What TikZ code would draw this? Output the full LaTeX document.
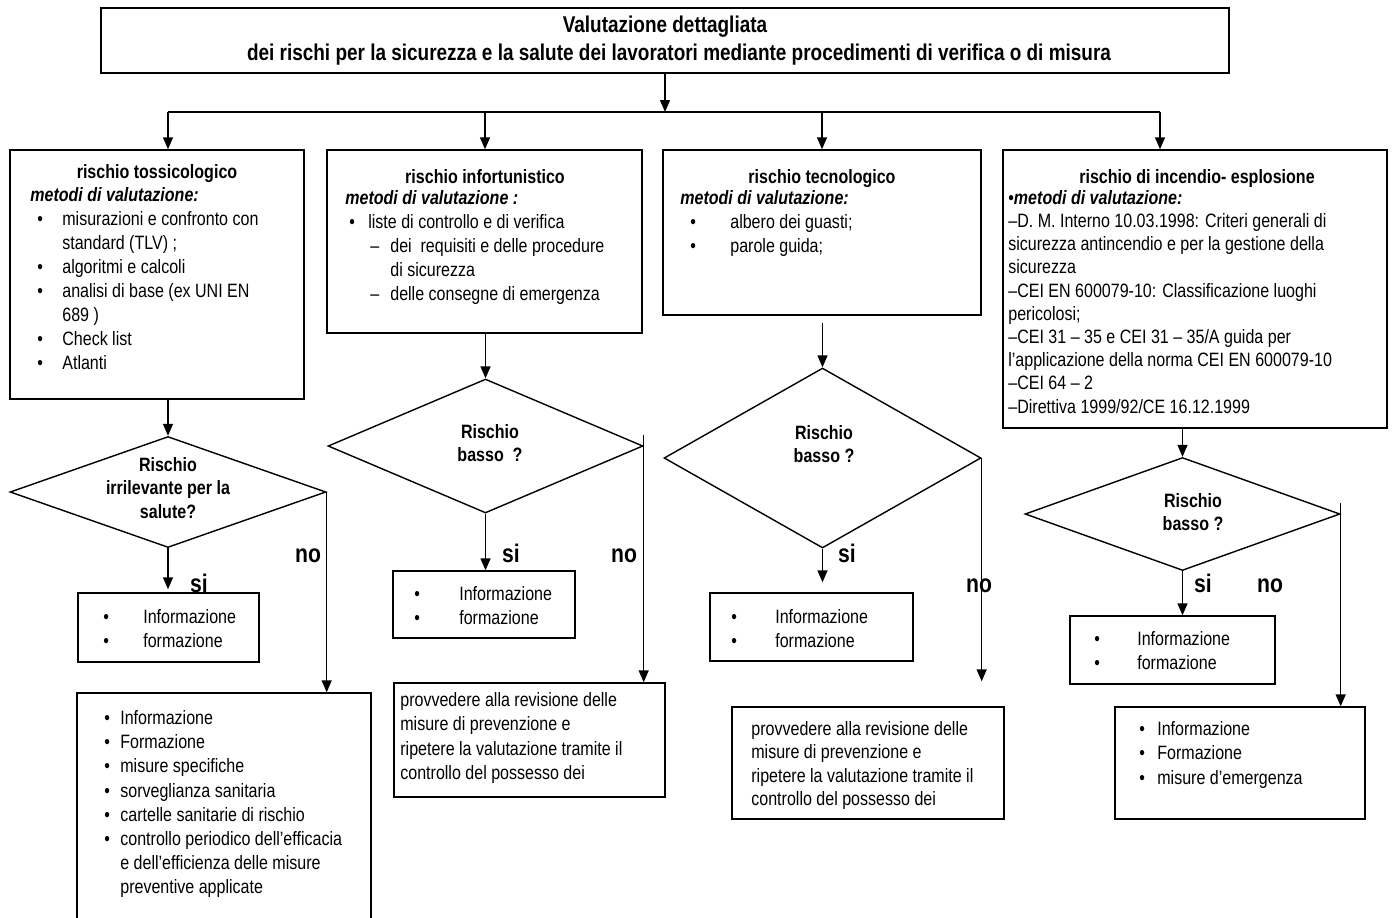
\documentclass[tikz,border=0pt]{standalone}
\usepackage{fontspec}
\setmainfont[FakeStretch=0.83]{Liberation Sans}
\usetikzlibrary{arrows.meta, positioning, shapes.geometric, fit}

\tikzset{
  box/.style={draw, line width=0.8pt, inner sep=0pt},
  decision/.style={draw, diamond, line width=0.8pt, inner sep=0pt},
  arr/.style={-{Triangle[length=0.24cm, width=0.2cm]}, line width=0.8pt},
  body/.style={anchor=north west, align=left, inner sep=0pt, font=\fontsize{11}{13.66}\selectfont},
  head/.style={anchor=base, inner sep=0pt, font=\fontsize{11}{13.66}\selectfont\bfseries},
  ask/.style={anchor=north, align=center, inner sep=0pt, font=\fontsize{11}{13.3}\selectfont\bfseries},
  yn/.style={anchor=base, inner sep=0pt, font=\fontsize{14.5}{17}\selectfont\bfseries},
}
\newcommand{\bul}[1]{\makebox[#1][l]{\textbullet}}

\begin{document}
\begin{tikzpicture}[x=0.02cm, y=-0.02cm]
    \useasboundingbox (0,0) rectangle (1395,917);

    % Titolo in alto
    \node[box, fit={(101,8) (1229,73)}] (titolo) {};
    \node[ask, font=\fontsize{13}{15.9}\selectfont\bfseries] (titolotxt) at (665,16)
        {Valutazione dettagliata\\\hspace*{0.56cm}dei rischi per la sicurezza e la salute dei lavoratori mediante procedimenti di verifica o di misura};

    % Linea di distribuzione verso le quattro colonne
    \coordinate (bus0) at (665,112);
    \coordinate (bus1) at (168,112);
    \coordinate (bus2) at (485,112);
    \coordinate (bus3) at (822,112);
    \coordinate (bus4) at (1160,112);
    \draw[arr] (titolo.south) -- (bus0);
    \draw[line width=0.8pt] (bus1) -- (bus4);

    % Rischio tossicologico
    \node[box, fit={(10,150) (304,399)}] (tox) {};
    \node[head] (toxhead) at (157,178) {rischio tossicologico};
    \node[body] (toxtxt) at (30,187) {\textbf{\textit{metodi di valutazione:}}\\
        \hspace*{0.14cm}\bul{0.5cm}misurazioni e confronto con\\
        \hspace*{0.64cm}standard (TLV) ;\\
        \hspace*{0.14cm}\bul{0.5cm}algoritmi e calcoli\\
        \hspace*{0.14cm}\bul{0.5cm}analisi di base (ex UNI EN\\
        \hspace*{0.64cm}689 )\\
        \hspace*{0.14cm}\bul{0.5cm}Check list\\
        \hspace*{0.14cm}\bul{0.5cm}Atlanti};
    \draw[arr] (bus1) -- (bus1 |- tox.north);

    % Rischio infortunistico
    \node[box, fit={(327,150) (642,333)}] (inf) {};
    \node[head] (infhead) at (485,183) {rischio infortunistico};
    \node[body] (inftxt) at (345,190) {\textbf{\textit{metodi di valutazione :}}\\
        \hspace*{0.08cm}\bul{0.38cm}liste di controllo e di verifica\\
        \hspace*{0.5cm}\makebox[0.4cm][l]{–}dei\ \ requisiti e delle procedure\\
        \hspace*{0.9cm}di sicurezza\\
        \hspace*{0.5cm}\makebox[0.4cm][l]{–}delle consegne di emergenza};
    \draw[arr] (bus2) -- (bus2 |- inf.north);

    % Rischio tecnologico
    \node[box, fit={(663,150) (981,315)}] (tec) {};
    \node[head] (techead) at (822,183) {rischio tecnologico};
    \node[body] (tectxt) at (680,190) {\textbf{\textit{metodi di valutazione:}}\\
        \hspace*{0.2cm}\bul{0.8cm}albero dei guasti;\\
        \hspace*{0.2cm}\bul{0.8cm}parole guida;};
    \draw[arr] (bus3) -- (bus3 |- tec.north);

    % Rischio di incendio-esplosione
    \node[box, fit={(1003,150) (1387,428)}] (inc) {};
    \node[head] (inchead) at (1197,183) {rischio di incendio- esplosione};
    \node[body, font=\fontsize{11}{13.2}\selectfont] (inctxt) at (1008,190) {\textbullet\textbf{\textit{metodi di valutazione:}}\\
        –D. M. Interno 10.03.1998: Criteri generali di\\
        sicurezza antincendio e per la gestione della\\
        sicurezza\\
        –CEI EN 600079-10: Classificazione luoghi\\
        pericolosi;\\
        –CEI 31 – 35 e CEI 31 – 35/A guida per\\
        l’applicazione della norma CEI EN 600079-10\\
        –CEI 64 – 2\\
        –Direttiva 1999/92/CE 16.12.1999};
    \draw[arr] (bus4) -- (bus4 |- inc.north);

    % Rombi di decisione
    \node[decision, minimum width=6.32cm, minimum height=2.22cm] (q1) at (168,492) {};
    \node[ask] (q1txt) at (168,457) {Rischio\\irrilevante per la\\salute?};
    \node[decision, minimum width=6.3cm, minimum height=2.68cm] (q2) at (485.5,446) {};
    \node[ask] (q2txt) at (490,424) {Rischio\\basso\ \ ?};
    \node[decision, minimum width=6.34cm, minimum height=3.6cm] (q3) at (822.5,458) {};
    \node[ask] (q3txt) at (824,425) {Rischio\\basso ?};
    \node[decision, minimum width=6.3cm, minimum height=2.26cm] (q4) at (1182.5,514) {};
    \node[ask] (q4txt) at (1193,493) {Rischio\\basso ?};

    \draw[arr] (bus1 |- tox.south) -- (q1.north);
    \draw[arr] (q2.north |- inf.south) -- (q2.north);
    \draw[arr, shorten <=0.14cm] (q3.north |- tec.south) -- (q3.north);
    \draw[arr] (q4.north |- inc.south) -- (q4.north);

    % Esito si: informazione e formazione
    \node[box, fit={(78,593) (259,662)}] (s1) {};
    \node[body] (s1txt) at (103,609) {\bul{0.8cm}Informazione\\\bul{0.8cm}formazione};
    \node[box, fit={(393,571) (575,638)}] (s2) {};
    \node[body] (s2txt) at (414,586) {\bul{0.9cm}Informazione\\\bul{0.9cm}formazione};
    \node[box, fit={(710,593) (913,661)}] (s3) {};
    \node[body] (s3txt) at (731,609) {\bul{0.88cm}Informazione\\\bul{0.88cm}formazione};
    \node[box, fit={(1070,616) (1275,684)}] (s4) {};
    \node[body] (s4txt) at (1094,631) {\bul{0.86cm}Informazione\\\bul{0.86cm}formazione};

    \draw[arr, shorten >=0.06cm] (q1.south) -- (q1.south |- s1.north);
    \draw[arr] (q2.south) -- (q2.south |- s2.north);
    \draw[arr, shorten >=0.2cm] (q3.south) -- (q3.south |- s3.north);
    \draw[arr] (q4.south) -- (q4.south |- s4.north);

    % Esito no: misure
    \node[box, fit={(77,693) (371,930)}] (b1) {};
    \node[body, font=\fontsize{11}{13.78}\selectfont] (b1txt) at (104,710) {\bul{0.32cm}Informazione\\
        \bul{0.32cm}Formazione\\
        \bul{0.32cm}misure specifiche\\
        \bul{0.32cm}sorveglianza sanitaria\\
        \bul{0.32cm}cartelle sanitarie di rischio\\
        \bul{0.32cm}controllo periodico dell’efficacia\\
        \hspace*{0.32cm}e dell’efficienza delle misure\\
        \hspace*{0.32cm}preventive applicate};
    \node[box, fit={(394,683) (665,797)}] (b2) {};
    \node[body, font=\fontsize{11}{13.9}\selectfont] (b2txt) at (400,692) {provvedere alla revisione delle\\
        misure di prevenzione e\\
        ripetere la valutazione tramite il\\
        controllo del possesso dei};
    \node[box, fit={(732,707) (1004,819)}] (b3) {};
    \node[body, font=\fontsize{11}{13.3}\selectfont] (b3txt) at (751,721) {provvedere alla revisione delle\\
        misure di prevenzione e\\
        ripetere la valutazione tramite il\\
        controllo del possesso dei};
    \node[box, fit={(1115,707) (1365,819)}] (b4) {};
    \node[body, font=\fontsize{11}{14.0}\selectfont] (b4txt) at (1139,721) {\bul{0.36cm}Informazione\\
        \bul{0.36cm}Formazione\\
        \bul{0.36cm}misure d’emergenza};

    \draw[arr] (q1.east) -- (q1.east |- b1.north);
    \draw[arr] ([yshift=0.22cm]q2.east) -- (q2.east |- b2.north);
    \draw[arr, shorten >=0.5cm] (q3.east) -- (q3.east |- b3.north);
    \draw[arr] ([yshift=0.22cm]q4.east) -- (q4.east |- b4.north);

    % Etichette si / no
    \node[yn] (si1) at (199,592) {si};
    \node[yn] (no1) at (308,562) {no};
    \node[yn] (si2) at (511,562) {si};
    \node[yn] (no2) at (624,562) {no};
    \node[yn] (si3) at (847,562) {si};
    \node[yn] (no3) at (979,592) {no};
    \node[yn] (si4) at (1203,592) {si};
    \node[yn] (no4) at (1270,592) {no};
\end{tikzpicture}
\end{document}
